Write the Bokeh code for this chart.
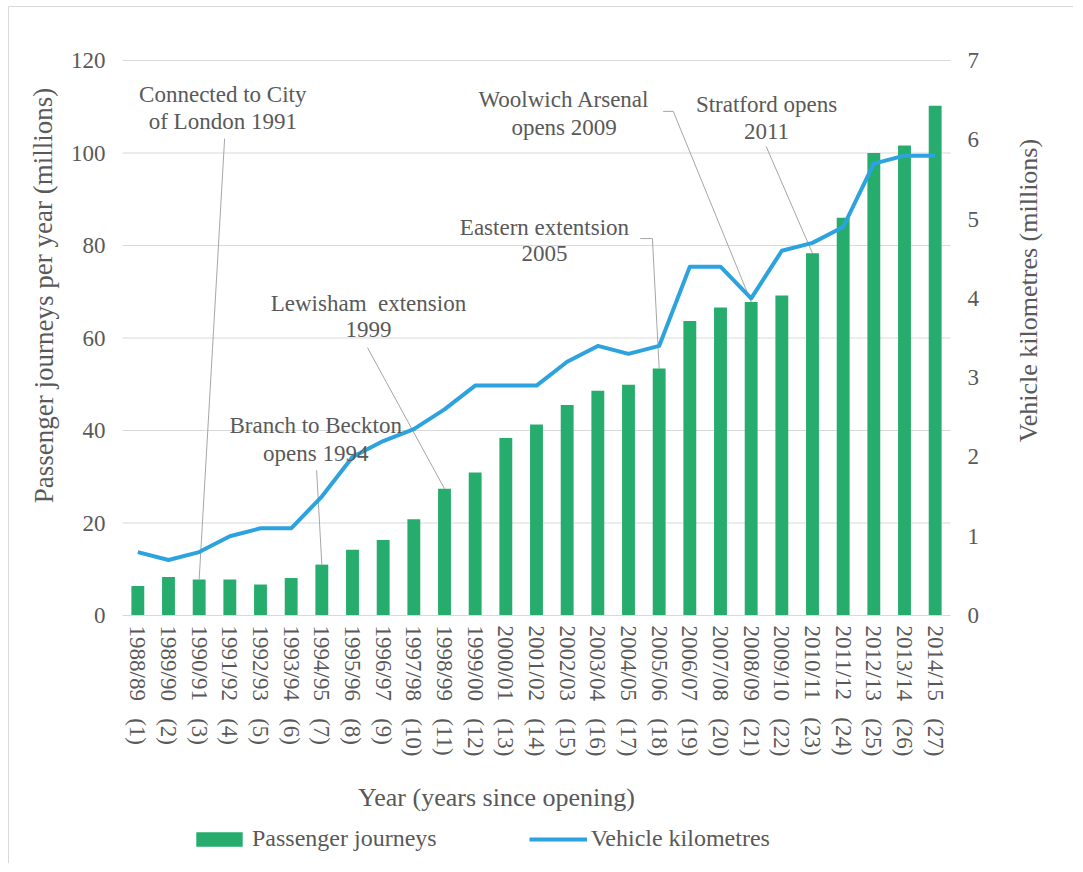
import math
from bokeh.plotting import figure
from bokeh.models import (Range1d, LinearAxis, FixedTicker, Legend, LegendItem,
                          ColumnDataSource)
from bokeh.core.properties import value
from bokeh.embed import file_html
from bokeh.resources import INLINE

# ---------------- data ----------------
years = ["1988/89", "1989/90", "1990/91", "1991/92", "1992/93", "1993/94", "1994/95",
         "1995/96", "1996/97", "1997/98", "1998/99", "1999/00", "2000/01", "2001/02",
         "2002/03", "2003/04", "2004/05", "2005/06", "2006/07", "2007/08", "2008/09",
         "2009/10", "2010/11", "2011/12", "2012/13", "2013/14", "2014/15"]
years_since_opening = list(range(1, 28))
passenger_journeys = [6.4, 8.3, 7.8, 7.8, 6.7, 8.1, 11.0, 14.2, 16.3, 20.8, 27.4, 30.9,
                      38.4, 41.3, 45.5, 48.6, 49.9, 53.4, 63.7, 66.6, 67.8, 69.2, 78.3,
                      86.0, 100.0, 101.6, 110.2]
vehicle_km = [0.8, 0.7, 0.8, 1.0, 1.1, 1.1, 1.5, 2.0, 2.2, 2.35, 2.6, 2.9, 2.9, 2.9,
              3.2, 3.4, 3.3, 3.4, 4.4, 4.4, 4.0, 4.6, 4.7, 4.9, 5.7, 5.8, 5.8]
left_ticks = [0, 20, 40, 60, 80, 100, 120]
right_ticks = [0, 1, 2, 3, 4, 5, 6, 7]

NB = "\u00a0"
tick_labels = [f"{y}{NB * 3}({n})" for y, n in zip(years, years_since_opening)]
idx = list(range(len(years)))
n = len(years)

FONT = "Liberation Serif"
TXT = "#595959"
GRID = "#d9d9d9"
GREEN = "#26AD6D"
BLUE = "#2CA3DE"

# ---------------- layout (canvas pixels) ----------------
W, H = 1073, 863                 # canvas
L, R, T, B = 122, 950, 60, 615   # plot area inside the canvas
xpx = (R - L) / n
ypx = (B - T) / left_ticks[-1]
rpx = (B - T) / right_ticks[-1]
x_start = -0.5 - L / xpx
y_end = left_ticks[-1] + T / ypx


def dx(px):
    return x_start + px / xpx


def dy(py):
    return y_end - py / ypx


src = ColumnDataSource(dict(idx=idx, journeys=passenger_journeys, vkm=vehicle_km))

p = figure(frame_width=W, frame_height=H, min_border=0,
           x_range=Range1d(x_start, n - 0.5 + (W - R) / xpx),
           y_range=Range1d(-(H - B) / ypx, y_end),
           x_axis_location=None, y_axis_location=None,
           output_backend="svg", toolbar_location=None)
p.outline_line_color = None
p.grid.visible = False
p.extra_y_ranges = {"right": Range1d(-(H - B) / rpx, right_ticks[-1] + T / rpx)}

# faint chart-area border (top / left edges)
p.quad(left=[dx(8)], right=[dx(W + 20)], top=[dy(6)], bottom=[dy(H + 20)],
       fill_color=None, line_color="#d9d9d9", line_width=1)

# axes fixed at the plot-area edges
xa = LinearAxis(ticker=FixedTicker(ticks=idx), fixed_location=0, bounds=(-0.5, n - 0.5))
xa.major_label_overrides = {i: t for i, t in zip(idx, tick_labels)}
xa.major_label_orientation = -math.pi / 2
xa.major_tick_line_color = None
xa.minor_tick_line_color = None
xa.major_tick_out = 0
xa.major_label_standoff = 10
xa.axis_line_color = GRID
xa.major_label_text_font = FONT
xa.major_label_text_font_size = "23px"
xa.major_label_text_color = TXT
p.add_layout(xa, "below")

ya = LinearAxis(ticker=FixedTicker(ticks=left_ticks), fixed_location=-0.5,
                bounds=(left_ticks[0], left_ticks[-1]))
ra = LinearAxis(y_range_name="right", ticker=FixedTicker(ticks=right_ticks),
                fixed_location=n - 0.5, bounds=(right_ticks[0], right_ticks[-1]))
for ax in (ya, ra):
    ax.axis_line_color = None
    ax.major_tick_line_color = None
    ax.minor_tick_line_color = None
    ax.major_tick_out = 0
    ax.major_label_standoff = 17
    ax.major_label_text_font = FONT
    ax.major_label_text_font_size = "23px"
    ax.major_label_text_color = TXT
p.add_layout(ya, "left")
p.add_layout(ra, "right")

# horizontal gridlines at the left-axis ticks, spanning the plot area
gsrc = ColumnDataSource(dict(y=left_ticks[1:]))
p.segment(x0=-0.5, x1=n - 0.5, y0="y", y1="y", source=gsrc, line_color=GRID, line_width=1)

# annotations (callout text + leader lines to the bars)
ann_lines = [
    ("Connected to City", 2.77, 112.6), ("of London 1991", 2.77, 106.8),
    ("Branch to Beckton", 5.8, 41.1), ("opens 1994", 5.8, 35.0),
    (f"Lewisham{NB}{NB}extension", 7.52, 67.5), ("1999", 7.52, 61.8),
    ("Eastern extentsion", 13.26, 83.9), ("2005", 13.26, 78.3),
    ("Woolwich Arsenal", 13.9, 111.6), ("opens 2009", 13.9, 105.5),
    ("Stratford opens", 20.5, 110.5), ("2011", 20.5, 104.6),
]
leaders = [
    ([2.83], [103.1], 2),
    ([5.83], [31.4], 6),
    ([7.49], [57.9], 10),
    ([16.38, 16.78], [81.5, 81.5], 17),
    ([17.13, 17.46], [109.0, 109.0], 20),
    ([20.49], [101.4], 22),
]
xs, ys = [], []
for lx, ly, bar in leaders:
    xs.append(lx + [bar])
    ys.append(ly + [passenger_journeys[bar]])
p.multi_line(xs=xs, ys=ys, line_color="#a6a6a6", line_width=1)

bars = p.vbar(x="idx", top="journeys", width=0.42, fill_color=GREEN, line_color=None,
              source=src)
line = p.line(x="idx", y="vkm", y_range_name="right", line_color=BLUE, line_width=4,
              line_join="round", source=src)

asrc = ColumnDataSource(dict(t=[a[0] for a in ann_lines], x=[a[1] for a in ann_lines],
                             y=[a[2] for a in ann_lines]))
p.text(x="x", y="y", text="t", source=asrc, text_align="center", text_baseline="middle",
       text_font=value(FONT), text_font_size="23px", text_color=TXT)

# axis titles
tsrc = ColumnDataSource(dict(
    t=["Passenger journeys per year (millions)", "Vehicle kilometres (millions)",
       "Year (years since opening)"],
    x=[dx(43), dx(1028), dx(496)],
    y=[dy(295), dy(290), dy(797)],
    a=[math.pi / 2, math.pi / 2, 0.0],
    s=["27px", "26px", "26px"]))
p.text(x="x", y="y", text="t", angle="a", text_font_size="s", source=tsrc,
       text_align="center", text_baseline="middle", text_font=value(FONT),
       text_color=TXT)

legend = Legend(items=[LegendItem(label="Passenger journeys", renderers=[bars]),
                       LegendItem(label="Vehicle kilometres", renderers=[line])],
                orientation="horizontal", location=(190, H - 852),
                glyph_width=58, glyph_height=18, label_standoff=4, spacing=92,
                padding=0, margin=0, border_line_color=None, background_fill_alpha=0,
                label_text_font=FONT, label_text_font_size="24px", label_text_color=TXT)
p.add_layout(legend)

open("out.html", "w").write(file_html(p, INLINE))
